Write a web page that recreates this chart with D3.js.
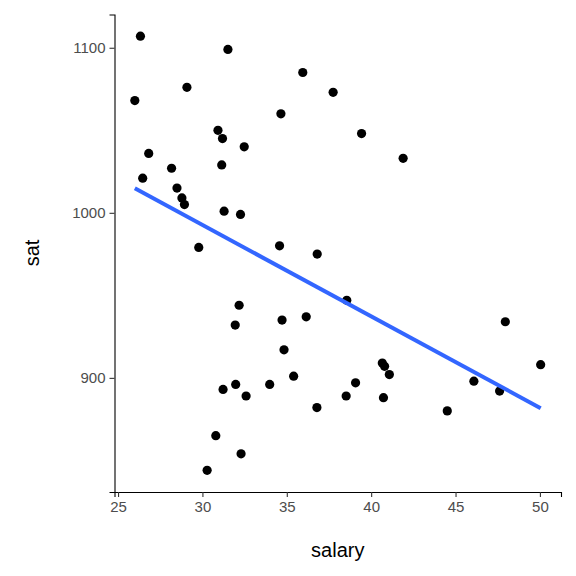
<!DOCTYPE html>
<html><head><meta charset="utf-8">
<script src="https://cdn.jsdelivr.net/npm/d3@7"></script>
<style>body{margin:0;background:#fff}</style>
</head><body><div id="chart"></div>
<script>
const salary = [31.144,47.951,32.175,28.934,41.078,34.571,50.045,39.076,32.588,32.291,38.518,29.783,39.431,36.785,31.511,34.652,32.257,26.461,31.972,40.661,40.795,41.895,35.948,26.818,31.189,28.785,30.922,34.836,34.720,46.087,28.493,47.612,30.793,26.327,36.802,28.172,38.555,44.510,40.729,30.279,25.994,32.477,31.223,29.082,35.406,33.987,36.151,31.944,37.746,31.285];
const sat = [1029,934,944,1005,902,980,908,897,889,854,889,979,1048,882,1099,1060,999,1021,896,909,907,1033,1085,1036,1045,1009,1050,917,935,898,1015,892,865,1107,975,1027,947,880,888,844,1068,1040,893,1076,901,896,937,932,1073,1001];
const xTicks = [25,30,35,40,45,50];
const yTicks = [900,1000,1100];

const W = 576, H = 576;
const FONT = "Liberation Sans, Arial, sans-serif";
const svg = d3.select("#chart").append("svg").attr("width",W).attr("height",H);

const x = d3.scaleLinear().domain([24.79,51.25]).range([114.5,561]);
const y = d3.scaleLinear().domain([830.85,1120.15]).range([492,14.5]);

// least squares fit
const mx = d3.mean(salary), my = d3.mean(sat);
let sxy = 0, sxx = 0;
salary.forEach((v,i)=>{ sxy += (v-mx)*(sat[i]-my); sxx += (v-mx)*(v-mx); });
const b = sxy/sxx, a = my - b*mx;
const x0 = d3.min(salary), x1 = d3.max(salary);

function styleAxis(g){
  g.attr("font-family",FONT).attr("font-size",15);
  g.select(".domain").attr("stroke","#000").attr("stroke-width",1.1);
  g.selectAll("line").attr("stroke","#333").attr("stroke-width",1.1);
  g.selectAll("text").attr("fill","#4d4d4d");
}

svg.append("g").attr("transform","translate(0,492)")
  .call(d3.axisBottom(x).tickValues(xTicks).tickFormat(d3.format("d")).tickSize(5).tickPadding(4))
  .call(styleAxis);
svg.append("g").attr("transform","translate(114.5,0)")
  .call(d3.axisLeft(y).tickValues(yTicks).tickFormat(d3.format("d")).tickSize(5).tickPadding(4))
  .call(styleAxis);

svg.append("g").selectAll("circle").data(salary).enter().append("circle")
  .attr("cx",d=>x(d)).attr("cy",(d,i)=>y(sat[i])).attr("r",4.6).attr("fill","#000");

svg.append("line")
  .attr("x1",x(x0)).attr("y1",y(a+b*x0))
  .attr("x2",x(x1)).attr("y2",y(a+b*x1))
  .attr("stroke","#3366FF").attr("stroke-width",4);

svg.append("text").attr("x",(114.5+561)/2).attr("y",557).attr("text-anchor","middle")
  .attr("font-family",FONT).attr("font-size",20).text("salary");
svg.append("text").attr("transform","translate(39,253) rotate(-90)").attr("text-anchor","middle")
  .attr("font-family",FONT).attr("font-size",20).text("sat");
</script></body></html>
